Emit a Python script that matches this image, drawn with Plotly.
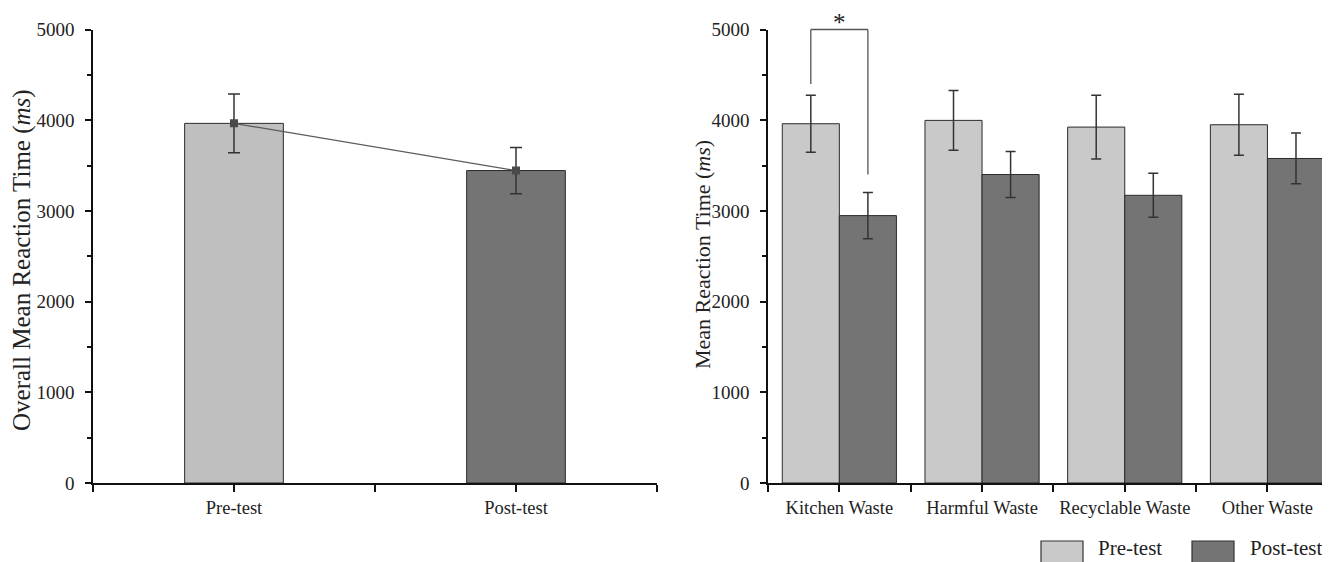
import plotly.graph_objects as go

# ---------------- data ----------------
overall_labels = ["Pre-test", "Post-test"]
overall_means = [3965, 3445]
overall_err = [325, 255]

categories = ["Kitchen Waste", "Harmful Waste", "Recyclable Waste", "Other Waste"]
pre_means = [3961, 3998, 3924, 3950]
pre_err = [315, 330, 352, 337]
post_means = [2948, 3401, 3172, 3578]
post_err = [255, 253, 243, 280]

series_names = ["Pre-test", "Post-test"]
y_ticks = [0, 1000, 2000, 3000, 4000, 5000]
sig_left_leg_end = 4400
sig_right_leg_end = 3400
sig_top = 5000
sig_label = "*"

# ---------------- style / layout ----------------
FONT = "Liberation Serif"
PRE_L = "#bfbfbf"
PRE_R = "#c9c9c9"
POST = "#747474"
EDGE = "#2b2b2b"
TXT = "#222222"

W, H = 1330, 562
OFF = 8  # page body margin offset


def px(xs):
    return (xs - OFF) / W


def py(ys):
    return 1 - (ys - OFF) / H


Y_DOMAIN = [py(483), py(29.5)]
Y_RANGE = [0, 5000]
LEFT_DOMAIN = [px(93), px(657)]
RIGHT_DOMAIN = [px(768), 1.0]
RIGHT_RANGE = [-0.5, -0.5 + (W + OFF - 768) / 142.7]
BAR_W_LEFT = 0.35
BAR_W_RIGHT = 0.4


def ypaper(v):
    return Y_DOMAIN[0] + (v - Y_RANGE[0]) / (Y_RANGE[1] - Y_RANGE[0]) * (Y_DOMAIN[1] - Y_DOMAIN[0])


fig = go.Figure()

# left panel bars
fig.add_trace(go.Bar(
    x=list(range(len(overall_labels))), y=overall_means,
    width=BAR_W_LEFT,
    marker=dict(color=[PRE_L, POST], line=dict(color=EDGE, width=1)),
    xaxis="x", yaxis="y", showlegend=False,
))
# left panel connecting line with error bars
fig.add_trace(go.Scatter(
    x=list(range(len(overall_labels))), y=overall_means,
    mode="lines+markers",
    line=dict(color="#5a5a5a", width=1.2),
    marker=dict(symbol="square", size=8, color="#4a4a4a"),
    error_y=dict(type="data", array=overall_err, color="#333333", thickness=1.5, width=6),
    xaxis="x", yaxis="y", showlegend=False,
))

# right panel grouped bars
fig.add_trace(go.Bar(
    name=series_names[0], x=list(range(len(categories))), y=pre_means,
    width=BAR_W_RIGHT, offset=-BAR_W_RIGHT,
    marker=dict(color=PRE_R, line=dict(color=EDGE, width=1)),
    error_y=dict(type="data", array=pre_err, color="#333333", thickness=1.5, width=5),
    xaxis="x2", yaxis="y2", showlegend=False,
))
fig.add_trace(go.Bar(
    name=series_names[1], x=list(range(len(categories))), y=post_means,
    width=BAR_W_RIGHT, offset=0,
    marker=dict(color=POST, line=dict(color=EDGE, width=1)),
    error_y=dict(type="data", array=post_err, color="#333333", thickness=1.5, width=5),
    xaxis="x2", yaxis="y2", showlegend=False,
))

ytickfont = dict(family=FONT, size=19, color=TXT)
xtickfont = dict(family=FONT, size=18.5, color=TXT)

common_y = dict(
    range=Y_RANGE, domain=Y_DOMAIN, tickvals=y_ticks, automargin=False,
    showgrid=False, zeroline=False, showline=True, linecolor="#111", linewidth=1.5,
    ticks="outside", ticklen=6, tickwidth=1.5, tickcolor="#111",
    minor=dict(dtick=500, ticks="outside", ticklen=4, tickwidth=1.5, tickcolor="#111", showgrid=False),
    tickfont=ytickfont, ticklabelstandoff=7,
)
common_x = dict(
    showgrid=False, zeroline=False, showline=True, linecolor="#111", linewidth=1.5,
    ticks="outside", ticklen=7, tickwidth=1.5, tickcolor="#111", automargin=False,
    minor=dict(tick0=0.5, dtick=1, ticks="outside", ticklen=7, tickwidth=1.5, tickcolor="#111", showgrid=False),
    tickfont=xtickfont,
)

fig.update_layout(
    width=W, height=H,
    margin=dict(l=0, r=0, t=0, b=0, autoexpand=False),
    paper_bgcolor="white", plot_bgcolor="white",
    barmode="overlay",
    showlegend=False,
    xaxis=dict(
        domain=LEFT_DOMAIN, range=[-0.5, 1.5], anchor="y",
        tickvals=list(range(len(overall_labels))), ticktext=overall_labels, **common_x,
    ),
    yaxis=dict(anchor="x", **common_y),
    xaxis2=dict(
        domain=RIGHT_DOMAIN, range=RIGHT_RANGE, anchor="y2",
        tickvals=list(range(len(categories))), ticktext=categories, **common_x,
    ),
    yaxis2=dict(anchor="x2", **common_y),
)

# y-axis titles as rotated annotations
fig.add_annotation(
    text="Overall Mean Reaction Time (<i>ms</i>)", xref="paper", yref="paper",
    x=px(22), y=py(260), textangle=-90, showarrow=False,
    font=dict(family=FONT, size=25, color=TXT), xanchor="center", yanchor="middle",
)
fig.add_annotation(
    text="Mean Reaction Time (<i>ms</i>)", xref="paper", yref="paper",
    x=px(703), y=py(255), textangle=-90, showarrow=False,
    font=dict(family=FONT, size=22, color=TXT), xanchor="center", yanchor="middle",
)

# significance bracket (Kitchen Waste pre vs post)
xl = 0 - BAR_W_RIGHT / 2
xr = 0 + BAR_W_RIGHT / 2
br = dict(color="#555555", width=1.3)
fig.add_shape(type="line", xref="x2", yref="paper", x0=xl, x1=xr, y0=ypaper(sig_top), y1=ypaper(sig_top), line=br)
fig.add_shape(type="line", xref="x2", yref="paper", x0=xl, x1=xl, y0=ypaper(sig_top), y1=ypaper(sig_left_leg_end), line=br)
fig.add_shape(type="line", xref="x2", yref="paper", x0=xr, x1=xr, y0=ypaper(sig_top), y1=ypaper(sig_right_leg_end), line=br)
fig.add_annotation(
    text=sig_label, xref="x2", yref="paper", x=0, y=1.0, yanchor="top",
    showarrow=False, font=dict(family=FONT, size=25, color=TXT), borderpad=0,
)

# manual legend at bottom right
legend_items = [
    (series_names[0], PRE_R, 1041, 1083, 1096),
    (series_names[1], POST, 1192, 1234, 1248),
]
for name, col, bx0, bx1, tx in legend_items:
    fig.add_shape(
        type="rect", xref="paper", yref="paper",
        x0=px(bx0), x1=px(bx1), y0=py(575), y1=py(541),
        fillcolor=col, line=dict(color="#333333", width=1.2),
    )
    fig.add_annotation(
        text=name, xref="paper", yref="paper", x=px(tx), y=py(548),
        xanchor="left", yanchor="middle", showarrow=False,
        font=dict(family=FONT, size=21, color=TXT),
    )

fig.write_html("out.html")
